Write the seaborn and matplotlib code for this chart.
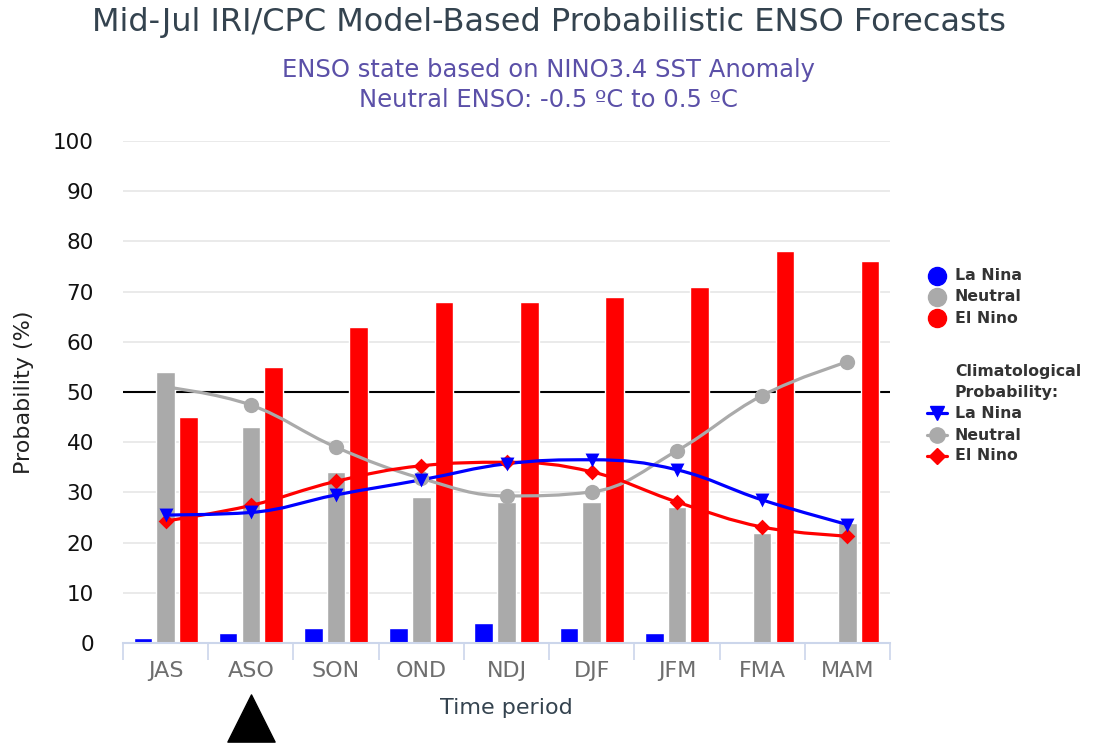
import numpy as np
import pandas as pd
import matplotlib
matplotlib.use("Agg")
import matplotlib.pyplot as plt
from matplotlib.path import Path
from matplotlib.patches import PathPatch
from matplotlib.lines import Line2D
from matplotlib.transforms import blended_transform_factory
import seaborn as sns

# ---- data ----
seasons = ["JAS", "ASO", "SON", "OND", "NDJ", "DJF", "JFM", "FMA", "MAM"]
la_nina = [1, 2, 3, 3, 4, 3, 2, 0, 0]
neutral = [54, 43, 34, 29, 28, 28, 27, 22, 24]
el_nino = [45, 55, 63, 68, 68, 69, 71, 78, 76]

clim_la_nina = [25.5, 26.0, 29.5, 32.5, 35.7, 36.5, 34.5, 28.5, 23.6]
clim_neutral = [51.0, 47.4, 39.0, 32.8, 29.3, 30.1, 38.3, 49.3, 56.0]
clim_el_nino = [24.3, 27.4, 32.2, 35.3, 36.0, 34.1, 28.1, 23.1, 21.3]

state_names = ["La Nina", "Neutral", "El Nino"]
current_season = "ASO"

BLUE, GREY, RED = "#0000ff", "#aaaaaa", "#ff0000"
TXT = "#333333"

sns.set_theme(style="white")
plt.rcParams["font.family"] = ["DejaVu Sans"]

fig = plt.figure(figsize=(10.97, 7.43), dpi=100)
ax = fig.add_axes([123 / 1097, 1 - 643 / 743, 767 / 1097, 502 / 743])

df = pd.DataFrame({
    "season": np.repeat(seasons, 3),
    "state": state_names * len(seasons),
    "prob": np.ravel(np.column_stack([la_nina, neutral, el_nino])),
})
sns.barplot(data=df, x="season", y="prob", hue="state", order=seasons,
            hue_order=state_names, palette=[BLUE, GREY, RED],
            width=0.8, gap=0.18, saturation=1, legend=False, ax=ax, zorder=2)


def spline_path(xs, ys, smoothing=1.5):
    """Cubic Bezier path through the points, Highcharts-style spline."""
    n = len(xs)
    denom = smoothing + 1
    left = [(xs[i], ys[i]) for i in range(n)]
    right = [(xs[i], ys[i]) for i in range(n)]
    for i in range(1, n - 1):
        px, py = xs[i], ys[i]
        lx, ly = xs[i - 1], ys[i - 1]
        nx, ny = xs[i + 1], ys[i + 1]
        lcx = (smoothing * px + lx) / denom
        lcy = (smoothing * py + ly) / denom
        rcx = (smoothing * px + nx) / denom
        rcy = (smoothing * py + ny) / denom
        if rcx != lcx:
            corr = ((rcy - lcy) * (rcx - px)) / (rcx - lcx) + py - rcy
            lcy += corr
            rcy += corr
        if lcy > ly and lcy > py:
            lcy = max(ly, py)
            rcy = 2 * py - lcy
        elif lcy < ly and lcy < py:
            lcy = min(ly, py)
            rcy = 2 * py - lcy
        if rcy > ny and rcy > py:
            rcy = max(ny, py)
            lcy = 2 * py - rcy
        elif rcy < ny and rcy < py:
            rcy = min(ny, py)
            lcy = 2 * py - rcy
        left[i] = (lcx, lcy)
        right[i] = (rcx, rcy)
    verts = [(xs[0], ys[0])]
    codes = [Path.MOVETO]
    for i in range(1, n):
        verts += [right[i - 1], left[i], (xs[i], ys[i])]
        codes += [Path.CURVE4] * 3
    return Path(verts, codes)


xpos = np.arange(len(seasons))
for vals, col, mk, ms in [(clim_neutral, GREY, "o", 11),
                          (clim_el_nino, RED, "D", 8),
                          (clim_la_nina, BLUE, "v", 10)]:
    ax.add_patch(PathPatch(spline_path(xpos, vals), facecolor="none",
                           edgecolor=col, lw=2.3, zorder=4, capstyle="round"))
    sns.scatterplot(x=xpos, y=vals, color=col, marker=mk, s=ms ** 2,
                    linewidth=0, ax=ax, zorder=5, legend=False)

# axes styling
ax.set_xlim(-0.5, len(seasons) - 0.5)
ax.set_ylim(0, 100)
ax.set_yticks(np.arange(0, 101, 10))
ax.yaxis.grid(True, color="#e6e6e6", lw=1.2, zorder=0)
ax.xaxis.grid(False)
ax.axhline(50, color="black", lw=1.5, zorder=1)
for s in ["left", "right", "top"]:
    ax.spines[s].set_visible(False)
ax.spines["bottom"].set_color("#ccd6eb")
ax.spines["bottom"].set_linewidth(1.5)
ax.set_xticks(xpos)
ax.set_xticks(np.arange(-0.5, len(seasons)), minor=True)
ax.tick_params(axis="x", which="major", length=0, pad=13, labelsize=16,
               labelcolor="#6e6e6e")
ax.tick_params(axis="x", which="minor", length=12, width=1.2,
               color="#ccd6eb", bottom=True)
ax.tick_params(axis="y", length=0, pad=21, labelsize=15.5, labelcolor="#111111")
for lab in ax.get_yticklabels():
    lab.set_horizontalalignment("right")
ax.set_xlabel("Time period", fontsize=16, color="#34434f", labelpad=12)
ax.set_ylabel("Probability (%)", fontsize=16, color="#222222", labelpad=14)
ax.set_facecolor("white")

# current season marker below the axis
trans = blended_transform_factory(ax.transData, ax.transAxes)
ax.scatter([seasons.index(current_season)], [-0.150], marker="^", s=34 ** 2,
           color="black", transform=trans, clip_on=False, zorder=6)

# titles
fig.text(0.5, 1 - 22 / 743, "Mid-Jul IRI/CPC Model-Based Probabilistic ENSO Forecasts",
         ha="center", va="center", fontsize=23, color="#34434f")
fig.text(0.5, 1 - 70 / 743, "ENSO state based on NINO3.4 SST Anomaly",
         ha="center", va="center", fontsize=17.5, color="#5b50a8")
fig.text(0.5, 1 - 100 / 743, "Neutral ENSO: -0.5 \u00baC to 0.5 \u00baC",
         ha="center", va="center", fontsize=17.5, color="#5b50a8")


# legend, drawn in figure pixels
def fx(px):
    return px / 1097


def fy(py):
    return 1 - py / 743


LEG_FS = 11.3
for py, col, name in [(276, BLUE, "La Nina"), (297, GREY, "Neutral"), (318, RED, "El Nino")]:
    fig.add_artist(Line2D([fx(937)], [fy(py)], marker="o", ms=13, color=col, lw=0))
    fig.text(fx(955), fy(py), name, ha="left", va="center", fontsize=LEG_FS,
             fontweight="bold", color=TXT)
fig.text(fx(955), fy(372), "Climatological", ha="left", va="center",
         fontsize=LEG_FS, fontweight="bold", color=TXT)
fig.text(fx(955), fy(393), "Probability:", ha="left", va="center",
         fontsize=LEG_FS, fontweight="bold", color=TXT)
for py, col, mk, ms, name in [(413, BLUE, "v", 10, "La Nina"), (435, GREY, "o", 11, "Neutral"),
                              (456, RED, "D", 8, "El Nino")]:
    fig.add_artist(Line2D([fx(927), fx(947)], [fy(py), fy(py)], color=col, lw=2.3))
    fig.add_artist(Line2D([fx(937)], [fy(py)], marker=mk, ms=ms, color=col, lw=0))
    fig.text(fx(955), fy(py), name, ha="left", va="center", fontsize=LEG_FS,
             fontweight="bold", color=TXT)

fig.savefig("out.png", dpi=100, facecolor="white")
